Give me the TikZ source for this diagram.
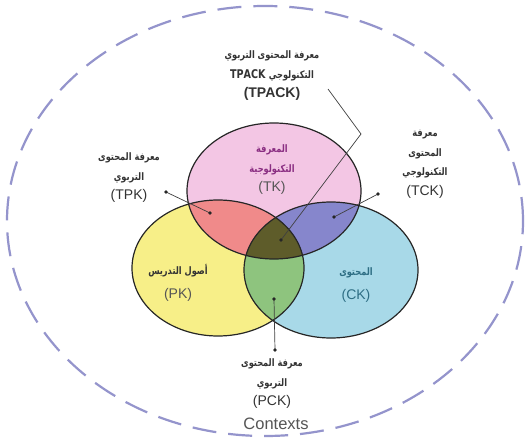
\documentclass[tikz,border=0pt]{standalone}
\usepackage{fontspec}
\usepackage{graphicx}
\setmainfont{Liberation Sans}
\newfontfamily\arabicfont[Script=Arabic]{DejaVu Sans}
\TeXXeTstate=1
\newcommand\artxt[1]{\scalebox{0.8}[1]{\arabicfont\bfseries\fontsize{10.3}{11}\selectfont\beginR #1\endR}}
\definecolor{tkfill}{HTML}{F3C6E4}
\definecolor{pkfill}{HTML}{F7EF88}
\definecolor{ckfill}{HTML}{A8D9E8}
\definecolor{tpkfill}{HTML}{F08A8A}
\definecolor{tckfill}{HTML}{8686CC}
\definecolor{pckfill}{HTML}{8EC47E}
\definecolor{tpackfill}{HTML}{5E5C2A}
\definecolor{ctxline}{HTML}{9494CC}
\definecolor{txt}{HTML}{333333}
\definecolor{lbl}{HTML}{555555}
\definecolor{tktxt}{HTML}{8A2E82}
\definecolor{cktxt}{HTML}{2E6E84}
\tikzset{
  circ/.style={draw=black!85, line width=1.2pt},
  lab/.style={align=center, text=txt, inner sep=0pt, font=\fontsize{14}{19.5}\selectfont},
  conn/.style={draw=black!75, line width=0.7pt},
  dotend/.style={fill=black!85},
}
\begin{document}
\begin{tikzpicture}[x=1pt,y=-1pt]
\useasboundingbox (0,0) rectangle (527,441);
\fill[white] (0,0) rectangle (527,441);
% outer context ellipse
\draw[ctxline, line width=2.2pt, dash pattern=on 24pt off 12pt] (265,221) ellipse [x radius=258pt, y radius=215pt];
% base circles
\fill[pkfill] (218,268) ellipse [x radius=86pt, y radius=68pt];
\fill[ckfill] (331,270) ellipse [x radius=87pt, y radius=68pt];
\fill[tkfill] (274,191) ellipse [x radius=87pt, y radius=68pt];
\begin{scope}
  \clip (274,191) ellipse [x radius=87pt, y radius=68pt];
  \fill[tpkfill] (218,268) ellipse [x radius=86pt, y radius=68pt];
  \fill[tckfill] (331,270) ellipse [x radius=87pt, y radius=68pt];
\end{scope}
\begin{scope}
  \clip (218,268) ellipse [x radius=86pt, y radius=68pt];
  \fill[pckfill] (331,270) ellipse [x radius=87pt, y radius=68pt];
  \clip (274,191) ellipse [x radius=87pt, y radius=68pt];
  \fill[tpackfill] (331,270) ellipse [x radius=87pt, y radius=68pt];
\end{scope}
\draw[circ] (218,268) ellipse [x radius=86pt, y radius=68pt];
\draw[circ] (331,270) ellipse [x radius=87pt, y radius=68pt];
\draw[circ] (274,191) ellipse [x radius=87pt, y radius=68pt];
% labels
\node[lab] (tpack) at (272,76) {\artxt{معرفة المحتوى التربوي}\\\artxt{التكنولوجي \beginL\fontsize{12}{11}\selectfont\textbf{TPACK}\endL}\\\textbf{(TPACK)}};
\node[lab] (tpk) at (129,178) {\artxt{معرفة المحتوى}\\\artxt{التربوي}\\(TPK)};
\node[lab] (tck) at (425,164) {\artxt{معرفة}\\\artxt{المحتوى}\\\artxt{التكنولوجي}\\(TCK)};
\node[lab, text=tktxt] (tk) at (272,170) {\artxt{المعرفة}\\\artxt{التكنولوجية}\\\textcolor{lbl}{(TK)}};
\node[lab] (pk) at (178,283) {\artxt{أصول التدريس}\\[4pt]\textcolor{lbl}{(PK)}};
\node[lab, text=cktxt] (ck) at (356,285) {\artxt{المحتوى}\\[4pt](CK)};
\node[lab] (pck) at (272,384) {\artxt{معرفة المحتوى}\\\artxt{التربوي}\\(PCK)};
\node[lab, font=\fontsize{16.5}{19}\selectfont, text=lbl] (ctx) at (276,424) {Contexts};
% connector ends
\coordinate (tpkA) at (166,192);
\coordinate (tpkB) at (210,213);
\coordinate (tckA) at (378,194);
\coordinate (tckB) at (334,217);
\coordinate (pckA) at (274,299);
\coordinate (pckB) at (275,350);
\coordinate (tpackA) at (328,89);
\coordinate (tpackK) at (361,134);
\coordinate (tpackB) at (281,240);
\draw[conn] (tpkA) -- (tpkB);
\draw[conn] (tckA) -- (tckB);
\draw[conn] (pckA) -- (pckB);
\draw[conn] (tpackA) -- (tpackK) -- (tpackB);
\foreach \p in {tpkA,tpkB,tckA,tckB,pckA,pckB,tpackB}
  \fill[dotend] (\p) circle (1.8pt);
\end{tikzpicture}
\end{document}
